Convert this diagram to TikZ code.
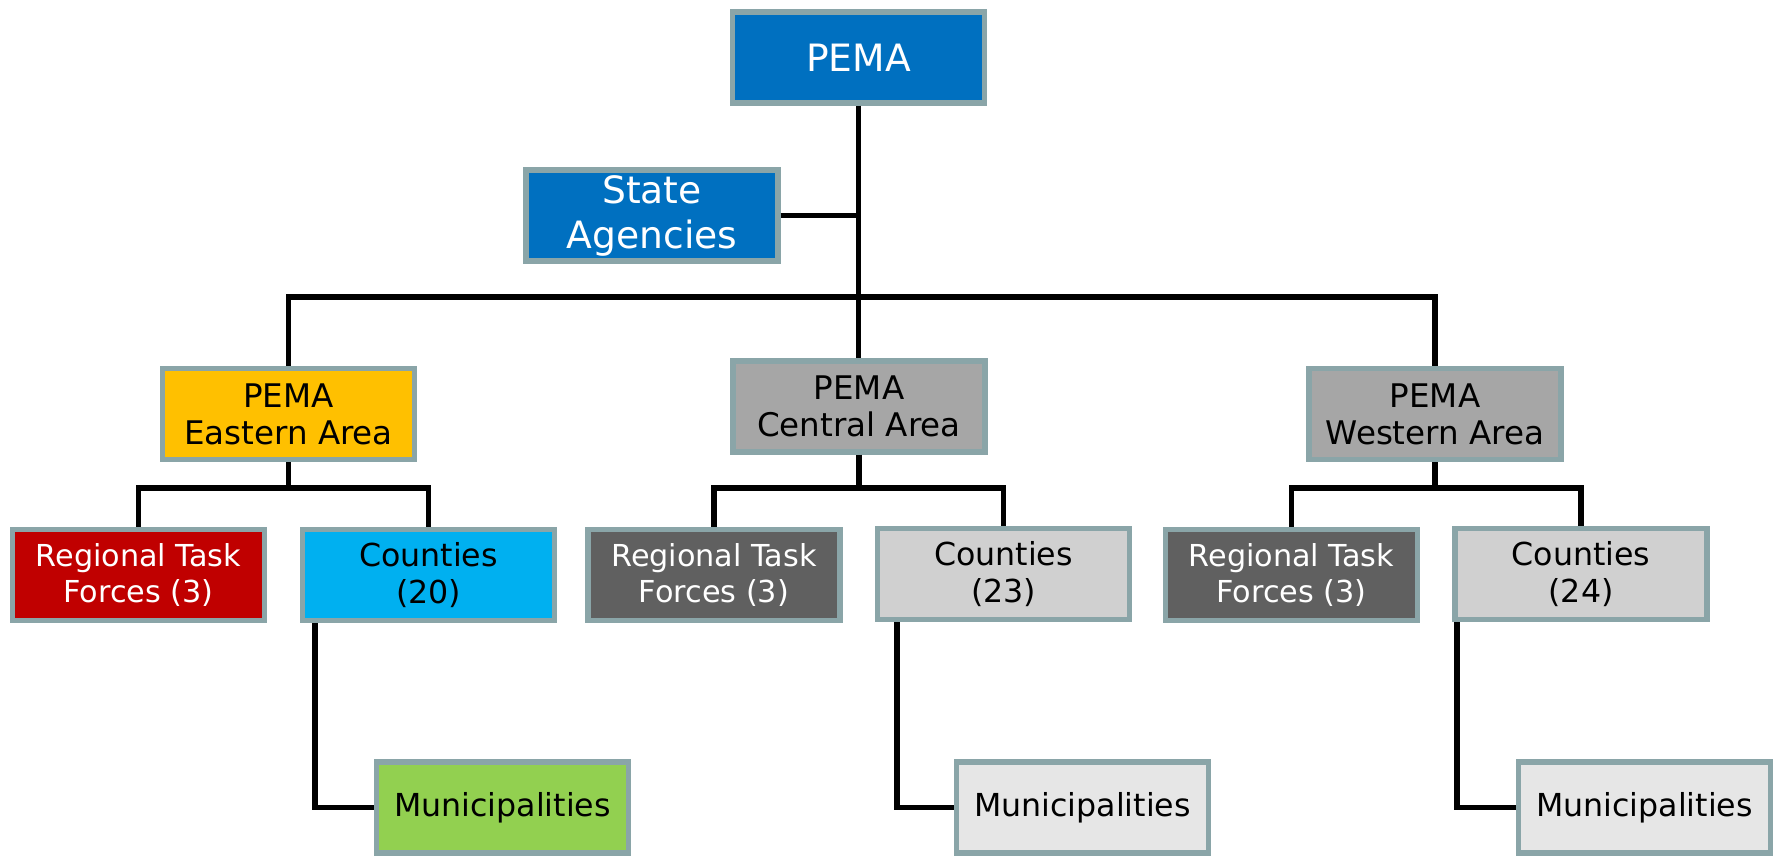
\documentclass[tikz,border=0pt]{standalone}
\usepackage{fontspec}
\setmainfont{DejaVu Sans}
\usetikzlibrary{calc}

\definecolor{rim}{HTML}{8AA5A8}
\definecolor{pemablue}{HTML}{0070C0}
\definecolor{eastyellow}{HTML}{FFC000}
\definecolor{areagray}{HTML}{A6A6A6}
\definecolor{rtfred}{HTML}{C00000}
\definecolor{ctycyan}{HTML}{00B0F0}
\definecolor{rtfgray}{HTML}{606060}
\definecolor{ctygray}{HTML}{D0D0D0}
\definecolor{munigreen}{HTML}{92D050}
\definecolor{munigray}{HTML}{E6E6E6}

\tikzset{
  box/.style={draw=rim, line width=1.5pt, rectangle, align=center,
    minimum width=2.52cm, minimum height=0.91cm, inner sep=0pt},
  link/.style={draw=black, line width=1.6pt},
  big/.style={font=\fontsize{10.7}{12.8}\selectfont},
  mid/.style={font=\fontsize{9.25}{10.6}\selectfont},
  small/.style={font=\fontsize{8.6}{10.2}\selectfont},
  cty/.style={font=\fontsize{9.0}{10.6}\selectfont},
}

\begin{document}
\begin{tikzpicture}[x=0.01cm, y=-0.01cm]
			\useasboundingbox (0,0) rectangle (1779,856);
			% top level
			\node[box, big, fill=pemablue, text=white] (pema) at (858.5, 57.5) {PEMA};
			\node[box, big, fill=pemablue, text=white] (state) at (652, 215.5) {State\\Agencies};
			
			% areas
			\node[box, mid, fill=eastyellow] (east) at (288.5, 414) {PEMA\\Eastern Area};
			\node[box, mid, fill=areagray] (central) at (859, 406.5) {PEMA\\Central Area};
			\node[box, mid, fill=areagray] (west) at (1435, 414) {PEMA\\Western Area};
			
			% task forces and counties
			\node[box, small, fill=rtfred, text=white] (rtfE) at (138.5, 575) {Regional Task\\Forces (3)};
			\node[box, cty, fill=ctycyan] (ctyE) at (428.5, 575) {Counties\\(20)};
			\node[box, small, fill=rtfgray, text=white] (rtfC) at (714, 575) {Regional Task\\Forces (3)};
			\node[box, cty, fill=ctygray] (ctyC) at (1003.5, 574) {Counties\\(23)};
			\node[box, small, fill=rtfgray, text=white] (rtfW) at (1291.5, 575) {Regional Task\\Forces (3)};
			\node[box, cty, fill=ctygray] (ctyW) at (1581, 574) {Counties\\(24)};
			
			% municipalities
			\node[box, cty, fill=munigreen] (muniE) at (502.5, 807.5) {Municipalities};
			\node[box, cty, fill=munigray] (muniC) at (1082.5, 807.5) {Municipalities};
			\node[box, cty, fill=munigray] (muniW) at (1644.5, 807.5) {Municipalities};
			
			% DRAW TREE
			\path[link] (pema.south) -- (pema.south |- central.north);
			\path[link] (state.east) -- (state.east -| pema.south);
			\path[link] (east.north) -- (east.north |- 0,297) -- (west.north |- 0,297) -- (west.north);
			
			\path[link] (east.south) -- (east.south |- 0,488);
			\path[link] (rtfE.north) -- (rtfE.north |- 0,488) -- (ctyE.north |- 0,488) -- (ctyE.north);
			\path[link] (central.south) -- (central.south |- 0,488);
			\path[link] (rtfC.north) -- (rtfC.north |- 0,488) -- (ctyC.north |- 0,488) -- (ctyC.north);
			\path[link] (west.south) -- (west.south |- 0,488);
			\path[link] (rtfW.north) -- (rtfW.north |- 0,488) -- (ctyW.north |- 0,488) -- (ctyW.north);
			
			\path[link] ($(ctyE.south west)+(15,0)$) |- (muniE.west);
			\path[link] ($(ctyC.south west)+(22,0)$) |- (muniC.west);
			\path[link] ($(ctyW.south west)+(5,0)$) |- (muniW.west);
		\end{tikzpicture}
\end{document}
